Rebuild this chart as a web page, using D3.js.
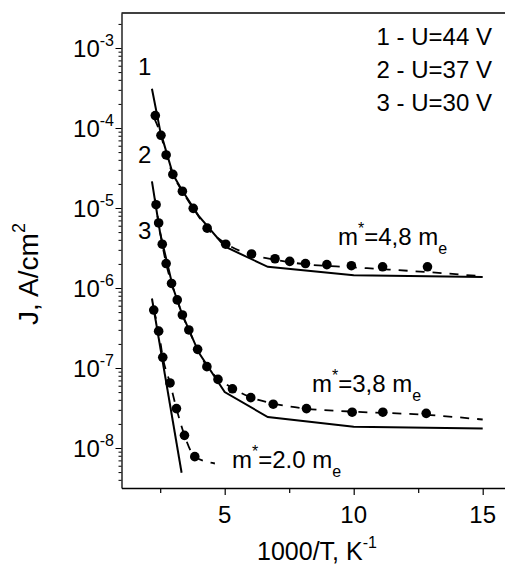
<!DOCTYPE html>
<html>
<head>
<meta charset="utf-8">
<script src="https://cdn.jsdelivr.net/npm/d3@7"></script>
<style>
  body { margin: 0; background: #fff; }
  text { font-family: "Liberation Sans", Arial, sans-serif; fill: #000; }
</style>
</head>
<body>
<script>
// ---- data (x = 1000/T, J in A/cm^2) ----

// curve 1, U = 44 V
const dotsX1 = [2.31, 2.53, 2.73, 2.99, 3.36, 3.78, 4.32, 5.04, 6.04, 6.95, 7.52, 8.13, 8.96, 9.91, 11.12, 12.86]
const dotsJ1 = [1.43e-4, 8.1e-5, 4.6e-5, 2.63e-5, 1.62e-5, 9.9e-6, 5.6e-6, 3.53e-6, 2.66e-6, 2.32e-6, 2.15e-6, 2.02e-6, 1.96e-6, 1.9e-6, 1.84e-6, 1.84e-6]
const solidX1 = [2.18, 2.5, 3.0, 3.33, 4.0, 5.0, 6.67, 10, 15]
const solidJ1 = [3.1e-4, 9.2e-5, 2.6e-5, 1.7e-5, 7.9e-6, 3.3e-6, 1.84e-6, 1.44e-6, 1.37e-6]
const dashX1 = [2.28, 2.53, 2.73, 2.99, 3.36, 3.78, 4.32, 5.04, 6.04, 6.95, 8.13, 9.91, 11.12, 12.86, 15]
const dashJ1 = [1.3e-4, 8.1e-5, 4.6e-5, 2.63e-5, 1.62e-5, 9.9e-6, 5.6e-6, 3.6e-6, 2.6e-6, 2.25e-6, 1.98e-6, 1.82e-6, 1.72e-6, 1.58e-6, 1.4e-6]

// curve 2, U = 37 V
const dotsX2 = [2.34, 2.44, 2.58, 2.73, 2.94, 3.16, 3.36, 3.61, 3.95, 4.31, 4.74, 5.30, 6.01, 6.88, 8.17, 9.94, 11.13, 12.81]
const dotsJ2 = [1.1e-5, 6.5e-6, 3.53e-6, 2.02e-6, 1.14e-6, 7.1e-7, 4.6e-7, 2.99e-7, 1.71e-7, 1.04e-7, 7.2e-8, 5.5e-8, 4.26e-8, 3.53e-8, 3.11e-8, 2.8e-8, 2.8e-8, 2.71e-8]
const solidX2 = [2.18, 2.5, 3.0, 3.33, 4.0, 5.0, 6.67, 10, 15]
const solidJ2 = [2.15e-5, 4.8e-6, 1.0e-6, 4.9e-7, 1.55e-7, 5.0e-8, 2.44e-8, 1.84e-8, 1.75e-8]
const dashX2 = [2.3, 2.44, 2.58, 2.73, 2.94, 3.16, 3.36, 3.61, 3.95, 4.31, 4.74, 5.30, 6.01, 6.88, 8.17, 9.94, 12.81, 15]
const dashJ2 = [1.3e-5, 6.5e-6, 3.53e-6, 2.02e-6, 1.14e-6, 7.1e-7, 4.6e-7, 2.99e-7, 1.71e-7, 1.04e-7, 7.4e-8, 5.6e-8, 4.3e-8, 3.6e-8, 3.1e-8, 2.85e-8, 2.6e-8, 2.27e-8]

// curve 3, U = 30 V
const dotsX3 = [2.25, 2.44, 2.60, 2.88, 3.13, 3.44, 3.84]
const dotsJ3 = [5.3e-7, 2.89e-7, 1.36e-7, 6.5e-8, 3.11e-8, 1.44e-8, 7.8e-9]
const solidX3 = [2.18, 3.33]
const solidJ3 = [7.4e-7, 4.9e-9]
const dashX3 = [2.25, 2.44, 2.60, 2.88, 3.13, 3.44, 3.84, 4.62]
const dashJ3 = [5.3e-7, 2.89e-7, 1.36e-7, 6.5e-8, 3.11e-8, 1.44e-8, 7.8e-9, 6.4e-9]

// labels
const legendLines = ["1 - U=44 V", "2 - U=37 V", "3 - U=30 V"]
const curveNames = ["1", "2", "3"]
const massValues = ["4,8", "3,8", "2.0"]

// ticks
const yMajor = [1e-8, 1e-7, 1e-6, 1e-5, 1e-4, 1e-3]
const yMajorExp = ["-8", "-7", "-6", "-5", "-4", "-3"]
const xMajor = [5, 10, 15]
const xMinor = [2.5, 7.5, 12.5]

// ---- drawing ----
const W = 505, H = 567

const svg = d3.select("body").append("svg")
    .attr("width", W)
    .attr("height", H)

svg.append("rect").attr("width", W).attr("height", H).attr("fill", "#fff")

const x = d3.scaleLinear().domain([1, 16]).range([121.5, 508.5])
const y = d3.scaleLog().domain([Math.pow(10, -8.5), Math.pow(10, -2.5625)]).range([488, 13])

// y minor ticks, 2..9 in each decade inside the domain
let yMinor = []
for (let e = -9; e <= -3; e++) {
    for (let k = 2; k <= 9; k++) {
        let v = k * Math.pow(10, e)
        if (v >= y.domain()[0] && v <= y.domain()[1]) yMinor.push(v)
    }
}

const gy = svg.append("g")
    .attr("transform", `translate(${x(1)},0)`)
    .call(d3.axisLeft(y).tickValues(yMajor.concat(yMinor)).tickFormat("").tickSizeOuter(0))
gy.selectAll(".tick line")
    .attr("x2", d => yMajor.includes(d) ? -6 : -3)
    .attr("stroke-width", 1)
gy.select(".domain").attr("stroke-width", 1.3)

const gx = svg.append("g")
    .attr("transform", `translate(0,${y.range()[0]})`)
    .call(d3.axisBottom(x).tickValues(xMajor.concat(xMinor)).tickFormat("").tickSizeOuter(0))
gx.selectAll(".tick line")
    .attr("y2", d => xMajor.includes(d) ? 7 : 5)
    .attr("stroke-width", 1.2)
gx.select(".domain").attr("stroke-width", 1.3)

// top frame line
svg.append("line")
    .attr("x1", x(1)).attr("x2", W)
    .attr("y1", y.range()[1]).attr("y2", y.range()[1])
    .attr("stroke", "#000").attr("stroke-width", 1.3)

// x tick labels
svg.selectAll(".xlab").data(xMajor).join("text")
    .attr("class", "xlab")
    .attr("x", d => x(d))
    .attr("y", 523)
    .attr("text-anchor", "middle")
    .attr("font-size", 24)
    .text(d => d)

// y tick labels: 10 with superscript exponent
yMajor.forEach((v, i) => {
    let t = svg.append("text")
        .attr("x", 114)
        .attr("y", y(v) + 9)
        .attr("text-anchor", "end")
        .attr("font-size", 24)
    t.append("tspan").text("10")
    t.append("tspan").attr("font-size", 16).attr("dy", -11).text(yMajorExp[i])
})

// axis titles
const xt = svg.append("text")
    .attr("x", 317).attr("y", 560)
    .attr("text-anchor", "middle")
    .attr("font-size", 25)
xt.append("tspan").text("1000/T, K")
xt.append("tspan").attr("font-size", 16).attr("dy", -12).text("-1")

const yt = svg.append("text")
    .attr("transform", "translate(38,274) rotate(-90)")
    .attr("text-anchor", "middle")
    .attr("font-size", 28)
yt.append("tspan").text("J, A/cm")
yt.append("tspan").attr("font-size", 18).attr("dy", -13).text("2")

// lines
const line = d3.line().x(d => x(d[0])).y(d => y(d[1]))
const smooth = d3.line().x(d => x(d[0])).y(d => y(d[1])).curve(d3.curveMonotoneX)

const solids = [[solidX1, solidJ1], [solidX2, solidJ2], [solidX3, solidJ3]]
const dashes = [[dashX1, dashJ1], [dashX2, dashJ2], [dashX3, dashJ3]]
const dots = [[dotsX1, dotsJ1], [dotsX2, dotsJ2], [dotsX3, dotsJ3]]

dashes.forEach(([xs, js]) => {
    svg.append("path")
        .attr("d", smooth(d3.zip(xs, js)))
        .attr("fill", "none")
        .attr("stroke", "#000")
        .attr("stroke-width", 1.8)
        .attr("stroke-dasharray", "9,8")
})

solids.forEach(([xs, js]) => {
    svg.append("path")
        .attr("d", line(d3.zip(xs, js)))
        .attr("fill", "none")
        .attr("stroke", "#000")
        .attr("stroke-width", 2)
})

dots.forEach(([xs, js]) => {
    svg.append("g").selectAll("circle").data(d3.zip(xs, js)).join("circle")
        .attr("cx", d => x(d[0]))
        .attr("cy", d => y(d[1]))
        .attr("r", 4.8)
        .attr("fill", "#000")
})

// legend text, top right
svg.selectAll(".leg").data(legendLines).join("text")
    .attr("class", "leg")
    .attr("x", 492)
    .attr("y", (d, i) => 45 + i * 33)
    .attr("text-anchor", "end")
    .attr("font-size", 24)
    .text(d => d)

// curve numbers
const namePos = [[138, 75], [138, 163], [138, 239]]
svg.selectAll(".cname").data(curveNames).join("text")
    .attr("class", "cname")
    .attr("x", (d, i) => namePos[i][0])
    .attr("y", (d, i) => namePos[i][1])
    .attr("font-size", 24)
    .text(d => d)

// effective mass annotations
const massPos = [[338, 245], [312, 392], [232, 468]]
massValues.forEach((m, i) => {
    let t = svg.append("text")
        .attr("x", massPos[i][0])
        .attr("y", massPos[i][1])
        .attr("font-size", 24)
    t.append("tspan").text("m")
    t.append("tspan").attr("font-size", 16).attr("dy", -11).text("*")
    t.append("tspan").attr("dy", 11).text("=" + m + " m")
    t.append("tspan").attr("font-size", 16).attr("dy", 9).text("e")
})
</script>
</body>
</html>
